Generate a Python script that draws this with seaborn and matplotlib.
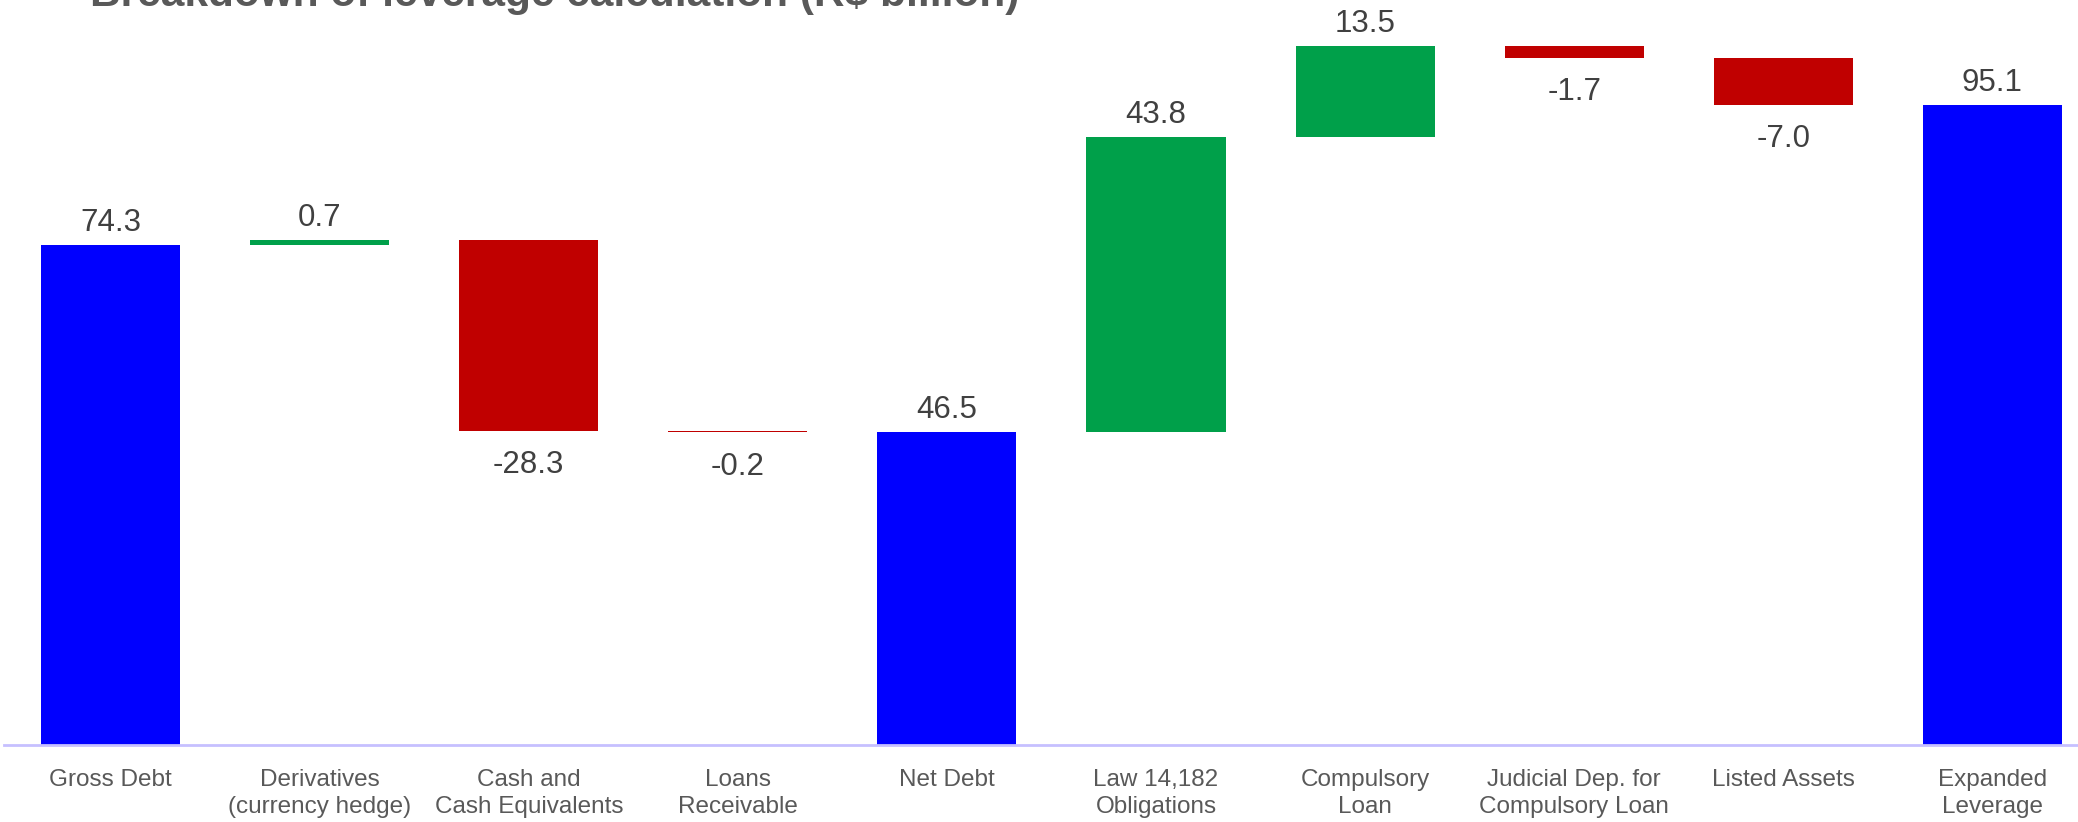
import numpy as np
import pandas as pd
import seaborn as sns
import matplotlib.pyplot as plt

# Waterfall data (R$ billion)
categories = ["Gross Debt", "Derivatives\n(currency hedge)", "Cash and\nCash Equivalents",
              "Loans\nReceivable", "Net Debt", "Law 14,182\nObligations", "Compulsory\nLoan",
              "Judicial Dep. for\nCompulsory Loan", "Listed Assets", "Expanded\nLeverage"]
values = [74.3, 0.7, -28.3, -0.2, 46.5, 43.8, 13.5, -1.7, -7.0, 95.1]
is_total = [True, False, False, False, True, False, False, False, False, True]

# floating bar positions
bottoms, heights = [], []
running = 0.0
for v, t in zip(values, is_total):
    if t:
        bottoms.append(0.0)
        heights.append(v)
        running = v
    else:
        bottoms.append(running if v >= 0 else running + v)
        heights.append(abs(v))
        running += v

colors = ["#0000ff" if t else ("#00a04a" if v >= 0 else "#c00000")
          for v, t in zip(values, is_total)]

df = pd.DataFrame({"cat": categories, "height": heights})

sns.set_style("white")
plt.rcParams['font.family'] = ['Liberation Sans', 'DejaVu Sans']

fig = plt.figure(figsize=(20.78, 8.22), dpi=100)
ax = fig.add_axes([4 / 2078, 1 - 745 / 822, 1 - 4 / 2078, 745 / 822])

sns.barplot(data=df, x="cat", y="height", color="#0000ff", width=0.665, ax=ax, saturation=1)

for p, b, h, c in zip(ax.patches, bottoms, heights, colors):
    p.set_y(b)
    p.set_height(h)
    p.set_facecolor(c)
    p.set_edgecolor("none")

# value labels
for i, (v, b, h, t) in enumerate(zip(values, bottoms, heights, is_total)):
    if v >= 0:
        ax.annotate(f"{v:.1f}", (i, b + h), xytext=(0, 5), textcoords="offset points",
                    ha="center", va="bottom", fontsize=22.5, color="#404040")
    else:
        ax.annotate(f"{v:.1f}", (i, b), xytext=(0, -14), textcoords="offset points",
                    ha="center", va="top", fontsize=22.5, color="#404040")

ax.set_xlim(-0.51, 9.41)
ax.set_ylim(0, 110.7)
ax.set_xlabel("")
ax.set_ylabel("")
ax.set_yticks([])
for s in ["top", "right", "left"]:
    ax.spines[s].set_visible(False)
ax.spines["bottom"].set_color("#c6c0ff")
ax.spines["bottom"].set_linewidth(2)
ax.tick_params(axis="x", length=0, pad=17, labelsize=17.5, labelcolor="#595959")
for lbl in ax.get_xticklabels():
    lbl.set_linespacing(1.3)

fig.text(90 / 2078, 1 - 6 / 822, "Breakdown of leverage calculation (R$ billion)",
         ha="left", va="baseline", fontsize=30.5, fontweight="bold", color="#595959")

fig.savefig("out.png", dpi=100)
